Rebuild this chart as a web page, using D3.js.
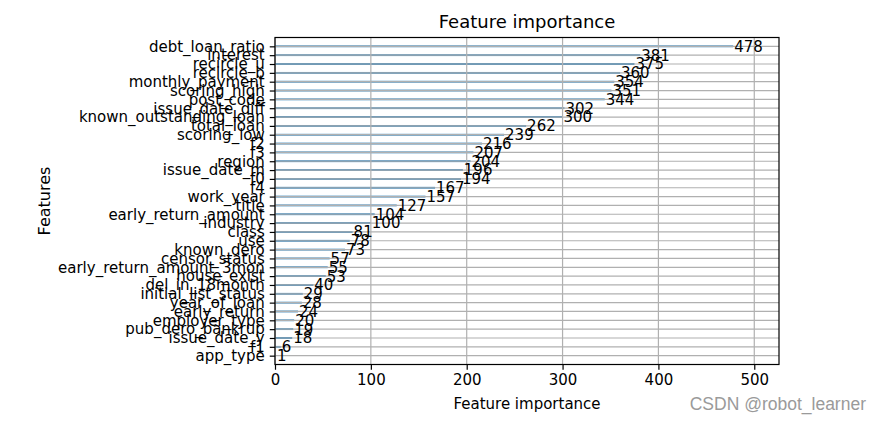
<!DOCTYPE html>
<html>
<head>
<meta charset="utf-8">
<script src="https://cdn.jsdelivr.net/npm/d3@7"></script>
<style>
  html, body { margin: 0; padding: 0; background: #ffffff; }
  svg { display: block; font-family: "DejaVu Sans", sans-serif; }
</style>
</head>
<body>
<svg id="chart" width="880" height="422"></svg>
<script>
// ---- data (top to bottom, as shown in the chart) ----
const features = [
  "debt_loan_ratio", "interest", "recircle_u", "recircle_b", "monthly_payment",
  "scoring_high", "post_code", "issue_date_diff", "known_outstanding_loan", "total_loan",
  "scoring_low", "f2", "f3", "region", "issue_date_m",
  "f0", "f4", "work_year", "title",
  "early_return_amount", "industry", "class", "use", "known_dero",
  "censor_status", "early_return_amount_3mon", "house_exist", "del_in_18month", "initial_list_status",
  "year_of_loan", "early_return", "employer_type", "pub_dero_bankrup", "issue_date_y",
  "f1", "app_type"
];
const importance = [
  478, 381, 375, 360, 354,
  351, 344, 302, 300, 262,
  239, 216, 207, 204, 196,
  194, 167, 157, 127,
  104, 100, 81, 78, 73,
  57, 55, 53, 40, 29,
  28, 24, 20, 19, 18,
  6, 1
];
const xTicks = [0, 100, 200, 300, 400, 500];
const titleText = "Feature importance";
const xLabel = "Feature importance";
const yLabel = "Features";
const watermark = "CSDN @robot_learner";

// ---- layout ----
const svg = d3.select("#chart");
const L = 275, R = 779, T = 37.5, B = 364.5;
const n = features.length;
const x = d3.scaleLinear().domain([0, d3.max(importance) * 1.1]).range([L, R]);
const y = d3.scaleLinear().domain([-1, n]).range([B, T]);
// position index from the bottom (matplotlib barh order)
const pos = i => n - 1 - i;
const barH = Math.abs(y(0) - y(0.2));

const fs = 15;

// bars
svg.append("g").selectAll("rect")
  .data(importance)
  .join("rect")
  .attr("x", x(0))
  .attr("y", (d, i) => y(pos(i)) - barH / 2)
  .attr("width", d => x(d) - x(0))
  .attr("height", barH)
  .attr("fill", "#1f77b4");

// grid (drawn above bars, as matplotlib does)
const grid = svg.append("g").attr("stroke", "#b0b0b0").attr("stroke-width", 1.2);
grid.selectAll("line.v").data(xTicks).join("line")
  .attr("class", "v")
  .attr("x1", d => x(d)).attr("x2", d => x(d))
  .attr("y1", T).attr("y2", B);
grid.selectAll("line.h").data(features).join("line")
  .attr("class", "h")
  .attr("x1", L).attr("x2", R)
  .attr("y1", (d, i) => y(pos(i))).attr("y2", (d, i) => y(pos(i)));

// value labels
svg.append("g").selectAll("text")
  .data(importance)
  .join("text")
  .attr("x", d => x(d + 1))
  .attr("y", (d, i) => y(pos(i)))
  .attr("dy", "0.36em")
  .attr("font-size", fs)
  .attr("fill", "#000")
  .text(d => d);

// axes
const xAxis = d3.axisBottom(x).tickValues(xTicks).tickSize(5.25).tickPadding(4.5).tickFormat(d3.format("d"));
const gx = svg.append("g").attr("transform", `translate(0,${B})`).call(xAxis);
gx.select(".domain").remove();
gx.selectAll("text").attr("font-size", fs).attr("fill", "#000").attr("font-family", "DejaVu Sans");
gx.selectAll("line").attr("stroke", "#000").attr("stroke-width", 1.2);

const yAxis = d3.axisLeft(y)
  .tickValues(d3.range(n))
  .tickSize(5.25).tickPadding(5)
  .tickFormat(k => features[n - 1 - k]);
const gy = svg.append("g").attr("transform", `translate(${L},0)`).call(yAxis);
gy.select(".domain").remove();
gy.selectAll("text").attr("font-size", fs).attr("fill", "#000").attr("font-family", "DejaVu Sans");
gy.selectAll("line").attr("stroke", "#000").attr("stroke-width", 1.2);

// frame
svg.append("rect")
  .attr("x", L).attr("y", T).attr("width", R - L).attr("height", B - T)
  .attr("fill", "none").attr("stroke", "#000").attr("stroke-width", 1.2);

// title and axis labels
svg.append("text").attr("x", (L + R) / 2).attr("y", 28)
  .attr("text-anchor", "middle").attr("font-size", 18).text(titleText);
svg.append("text").attr("x", (L + R) / 2).attr("y", 409)
  .attr("text-anchor", "middle").attr("font-size", fs).text(xLabel);
svg.append("text").attr("transform", "translate(50,201) rotate(-90)")
  .attr("text-anchor", "middle").attr("font-size", fs + 1).text(yLabel);

// watermark
svg.append("text").attr("x", 866).attr("y", 410)
  .attr("text-anchor", "end").attr("font-size", 17.5)
  .attr("font-family", "Liberation Sans, Arial, sans-serif")
  .attr("fill", "#9a9a9a").text(watermark);
</script>
</body>
</html>
